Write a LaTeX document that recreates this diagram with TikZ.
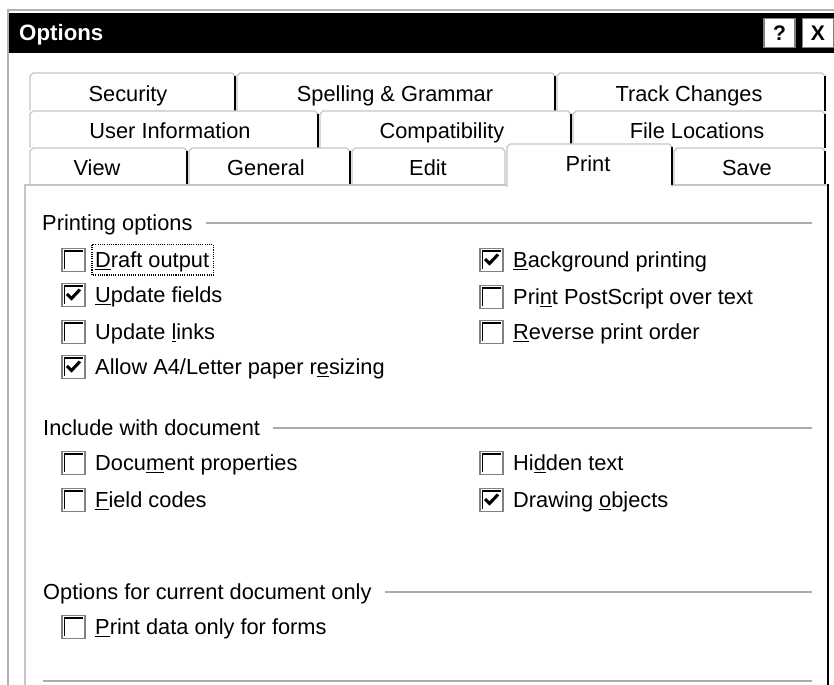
\documentclass[tikz,border=0pt]{standalone}
\usepackage{fontspec}
\setmainfont{Liberation Sans}
\usetikzlibrary{calc}
\begin{document}
\begin{tikzpicture}[x=0.03cm, y=-0.03cm]
			\tikzset{texte/.style={anchor=west, inner sep=0pt, text height=13.3pt, text depth=0pt, font=\fontsize{18.6}{22}\selectfont},
				titreonglet/.style={texte, anchor=center},
				onglet/.style={fill=white, draw=gray!45, line width=1pt},
				arete/.style={draw=black, line width=2.2pt},
				trait/.style={draw=gray!65, line width=1.8pt},
				bouton/.style={fill=white, draw=gray, line width=1.2pt, minimum width=0.93cm, minimum height=0.87cm, inner sep=0pt, font=\bfseries\fontsize{18}{20}\selectfont},
				case/.style={draw=gray, fill=white, line width=1.2pt, minimum size=0.69cm, inner sep=0pt,
					path picture={\draw[black, line width=1.3pt] ([shift={(2.5,20.5)}]path picture bounding box.north west) |- ([shift={(-2.5,2.5)}]path picture bounding box.north east);}},
				coche/.style={case,
					path picture={\draw[black, line width=1.3pt] ([shift={(2.5,20.5)}]path picture bounding box.north west) |- ([shift={(-2.5,2.5)}]path picture bounding box.north east);
						\draw[black, line width=2.6pt, line join=miter] ([shift={(-6.5,-1)}]path picture bounding box.center) -- ++(4.5,4.5) -- ++(8.5,-9);}}};

			\useasboundingbox (0,0) rectangle (834,685);
			\fill[white] (0,0) rectangle (834,685);

			% cadre et barre de titre
			\draw[gray!60, line width=2pt] (8,690) -- (8,10) -- (840,10);
			\fill[black] (9,13) rectangle (840,53);
			\node[texte, text=white, font=\bfseries\fontsize{19}{22}\selectfont] (titre) at (19,33) {Options};
			\node[bouton] (aide) at (779.5,33) {?};
			\node[bouton] (fermer) at (818,33) {X};

			% onglets, rang du haut
			\path[onglet] (30,111) -- (30,76) -- (33,73) -- (232,73) -- (235,76) -- (235,111);
			\draw[arete] (235,76) -- (235,111);
			\path[onglet] (237,111) -- (237,76) -- (240,73) -- (552,73) -- (555,76) -- (555,111);
			\draw[arete] (555,76) -- (555,111);
			\path[onglet] (557,111) -- (557,76) -- (560,73) -- (822,73) -- (825,76) -- (825,111);
			\draw[arete] (825,76) -- (825,111);
			\node[titreonglet] (o1) at (128,94) {Security};
			\node[titreonglet] (o2) at (395,94) {Spelling \& Grammar};
			\node[titreonglet] (o3) at (689,94) {Track Changes};

			% onglets, rang du milieu
			\path[onglet] (30,148) -- (30,114) -- (33,111) -- (315,111) -- (318,114) -- (318,148);
			\draw[arete] (318,114) -- (318,148);
			\path[onglet] (320,148) -- (320,114) -- (323,111) -- (568,111) -- (571,114) -- (571,148);
			\draw[arete] (571,114) -- (571,148);
			\path[onglet] (573,148) -- (573,114) -- (576,111) -- (822,111) -- (825,114) -- (825,148);
			\draw[arete] (825,114) -- (825,148);
			\node[titreonglet] (o4) at (170,131) {User Information};
			\node[titreonglet] (o5) at (442,131) {Compatibility};
			\node[titreonglet] (o6) at (697,131) {File Locations};

			% onglets, rang du bas
			\path[onglet] (30,185) -- (30,151) -- (33,148) -- (184,148) -- (187,151) -- (187,185);
			\draw[arete] (187,151) -- (187,185);
			\path[onglet] (189,185) -- (189,151) -- (192,148) -- (347,148) -- (350,151) -- (350,185);
			\draw[arete] (350,151) -- (350,185);
			\path[onglet] (352,185) -- (352,151) -- (355,148) -- (502,148) -- (505,151) -- (505,185);
			\path[onglet] (674,185) -- (674,151) -- (677,148) -- (822,148) -- (825,151) -- (825,185);
			\draw[arete] (825,151) -- (825,185);
			\node[titreonglet] (o7) at (97,168) {View};
			\node[titreonglet] (o8) at (266,168) {General};
			\node[titreonglet] (o9) at (428,168) {Edit};
			\node[titreonglet] (o11) at (747,168) {Save};

			% page de l'onglet
			\fill[white] (25,185) rectangle (828,690);
			\draw[gray!45, line width=1pt] (25,690) -- (25,185) -- (828,185);
			\draw[arete] (828,184) -- (828,690);

			% onglet actif
			\path[onglet] (507,187) -- (507,147) -- (510,144) -- (669,144) -- (672,147) -- (672,187);
			\draw[arete] (672,147) -- (672,185);
			\node[titreonglet] (o10) at (588,164) {Print};

			% Printing options
			\node[texte] (h1) at (42,223) {Printing options};
			\coordinate (e1) at (812,223);
			\draw[trait, shorten <=11pt] (h1) -- (e1);

			\node[case]  (c1) at (73.5,260) {};
			\node[coche] (c2) at (73.5,295) {};
			\node[case]  (c3) at (73.5,332) {};
			\node[coche] (c4) at (73.5,367) {};
			\node[texte] (t1) at (95,260) {\underline{D}raft output};
			\node[texte] (t2) at (95,295) {\underline{U}pdate fields};
			\node[texte] (t3) at (95,332) {Update \underline{l}inks};
			\node[texte] (t4) at (95,367) {Allow A4/Letter paper r\underline{e}sizing};
			\draw[densely dotted, line width=0.9pt] ($(t1.north west)+(-3,-7)$) rectangle ($(t1.south east)+(4,7)$);

			\node[coche] (c5) at (491.5,260) {};
			\node[case]  (c6) at (491.5,297) {};
			\node[case]  (c7) at (491.5,332) {};
			\node[texte] (t5) at (513,260) {\underline{B}ackground printing};
			\node[texte] (t6) at (513,297) {Pri\underline{n}t PostScript over text};
			\node[texte] (t7) at (513,332) {\underline{R}everse print order};

			% Include with document
			\node[texte] (h2) at (43,428) {Include with document};
			\coordinate (e2) at (812,428);
			\draw[trait, shorten <=11pt] (h2) -- (e2);

			\node[case]  (c8) at (73.5,463) {};
			\node[case]  (c9) at (73.5,500) {};
			\node[case]  (c10) at (491.5,463) {};
			\node[coche] (c11) at (491.5,500) {};
			\node[texte] (t8) at (95,463) {Docu\underline{m}ent properties};
			\node[texte] (t9) at (95,500) {\underline{F}ield codes};
			\node[texte] (t10) at (513,463) {Hi\underline{d}den text};
			\node[texte] (t11) at (513,500) {Drawing \underline{o}bjects};

			% Options for current document only
			\node[texte] (h3) at (43,592) {Options for current document only};
			\coordinate (e3) at (812,592);
			\draw[trait, shorten <=11pt] (h3) -- (e3);

			\node[case]  (c12) at (73.5,627) {};
			\node[texte] (t12) at (95,627) {\underline{P}rint data only for forms};

			\coordinate (b1) at (43,681);
			\coordinate (b2) at (812,681);
			\draw[trait] (b1) -- (b2);
		\end{tikzpicture}
\end{document}
